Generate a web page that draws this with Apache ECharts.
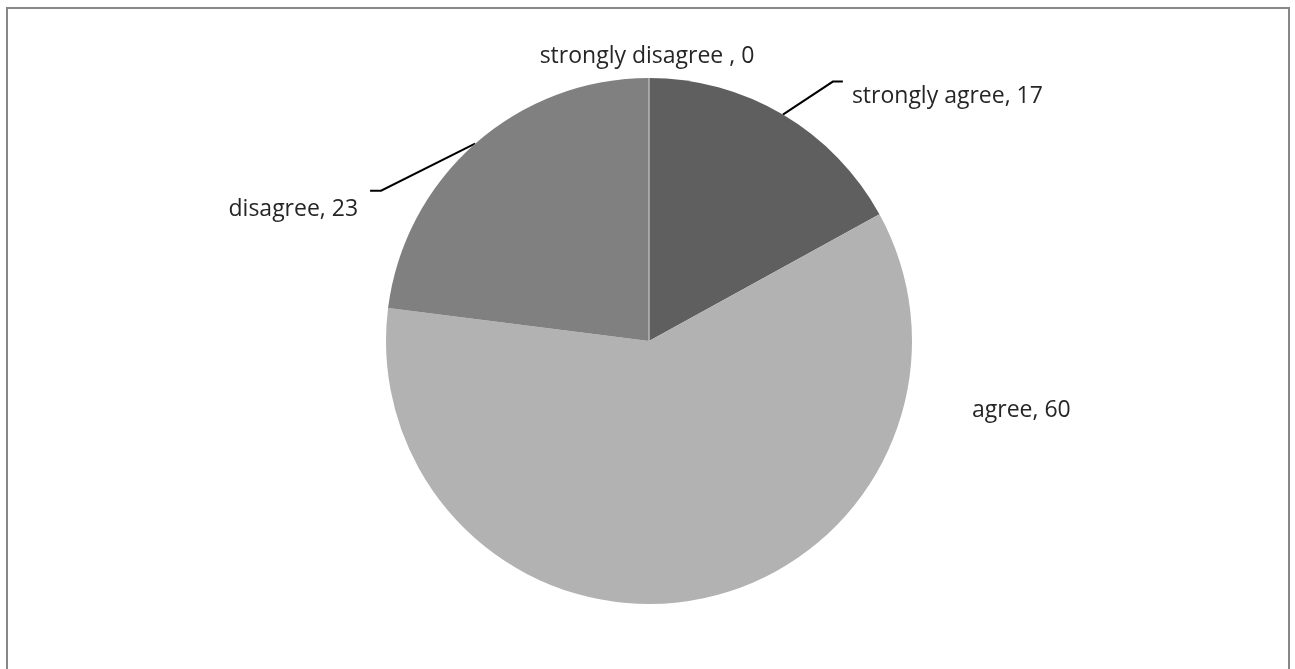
<!DOCTYPE html>
<html>
<head>
<meta charset="utf-8">
<style>
  html, body { margin: 0; padding: 0; background: #ffffff; }
  #chart { width: 1295px; height: 669px; }
</style>
<script src="https://cdn.jsdelivr.net/npm/echarts@6/dist/echarts.min.js"></script>
</head>
<body>
<div id="chart"></div>
<script>
// Survey responses
const categories = ['strongly agree', 'agree', 'disagree', 'strongly disagree '];
const values = [17, 60, 23, 0];
const sliceColors = ['#5f5f5f', '#b2b2b2', '#808080', '#b2b2b2'];

const CX = 649, CY = 341, R = 263;

// Leader / label placement for each slice (offsets in px)
const placement = [
  { elbow: [50, -33], tail: 10, gap: 9, drop: 15, align: 'left' },
  { free: [323, 69], align: 'left' },
  { elbow: [-94, 47], tail: -11, gap: -12, drop: 19, align: 'right' },
  { free: [-2, -(R + 22)], align: 'center' }
];

const chart = echarts.init(document.getElementById('chart'), null, { renderer: 'canvas' });

const data = categories.map((name, i) => ({
  name: name,
  value: values[i],
  itemStyle: i === 3
    ? { color: sliceColors[i], borderColor: '#b8b8b8', borderWidth: 1 }
    : { color: sliceColors[i] },
  labelLine: { show: !!placement[i].elbow }
}));

chart.setOption({
  animation: false,
  backgroundColor: '#ffffff',
  graphic: [{
    type: 'rect',
    shape: { x: 7, y: 8, width: 1282, height: 700 },
    style: { fill: 'none', stroke: '#878787', lineWidth: 2 },
    silent: true
  }],
  series: [{
    type: 'pie',
    center: [CX, CY],
    radius: [0, R],
    startAngle: 90,
    clockwise: true,
    avoidLabelOverlap: false,
    minShowLabelAngle: 0,
    data: data,
    label: {
      show: true,
      position: 'outside',
      formatter: p => p.name + ', ' + p.value,
      fontFamily: 'Open Sans',
      fontSize: 23,
      color: '#262626'
    },
    labelLine: {
      show: true,
      length: 20,
      length2: 10,
      lineStyle: { color: '#000000', width: 2 }
    },
    labelLayout: function (params) {
      const pl = placement[params.dataIndex];
      if (pl.elbow) {
        const p0 = params.labelLinePoints[0];
        const p1 = [p0[0] + pl.elbow[0], p0[1] + pl.elbow[1]];
        const p2 = [p1[0] + pl.tail, p1[1]];
        return {
          x: p2[0] + pl.gap,
          y: p2[1] + pl.drop,
          align: pl.align,
          verticalAlign: 'middle',
          labelLinePoints: [p0, p1, p2]
        };
      }
      return {
        x: CX + pl.free[0],
        y: CY + pl.free[1],
        align: pl.align,
        verticalAlign: 'middle'
      };
    }
  }]
});
</script>
</body>
</html>
